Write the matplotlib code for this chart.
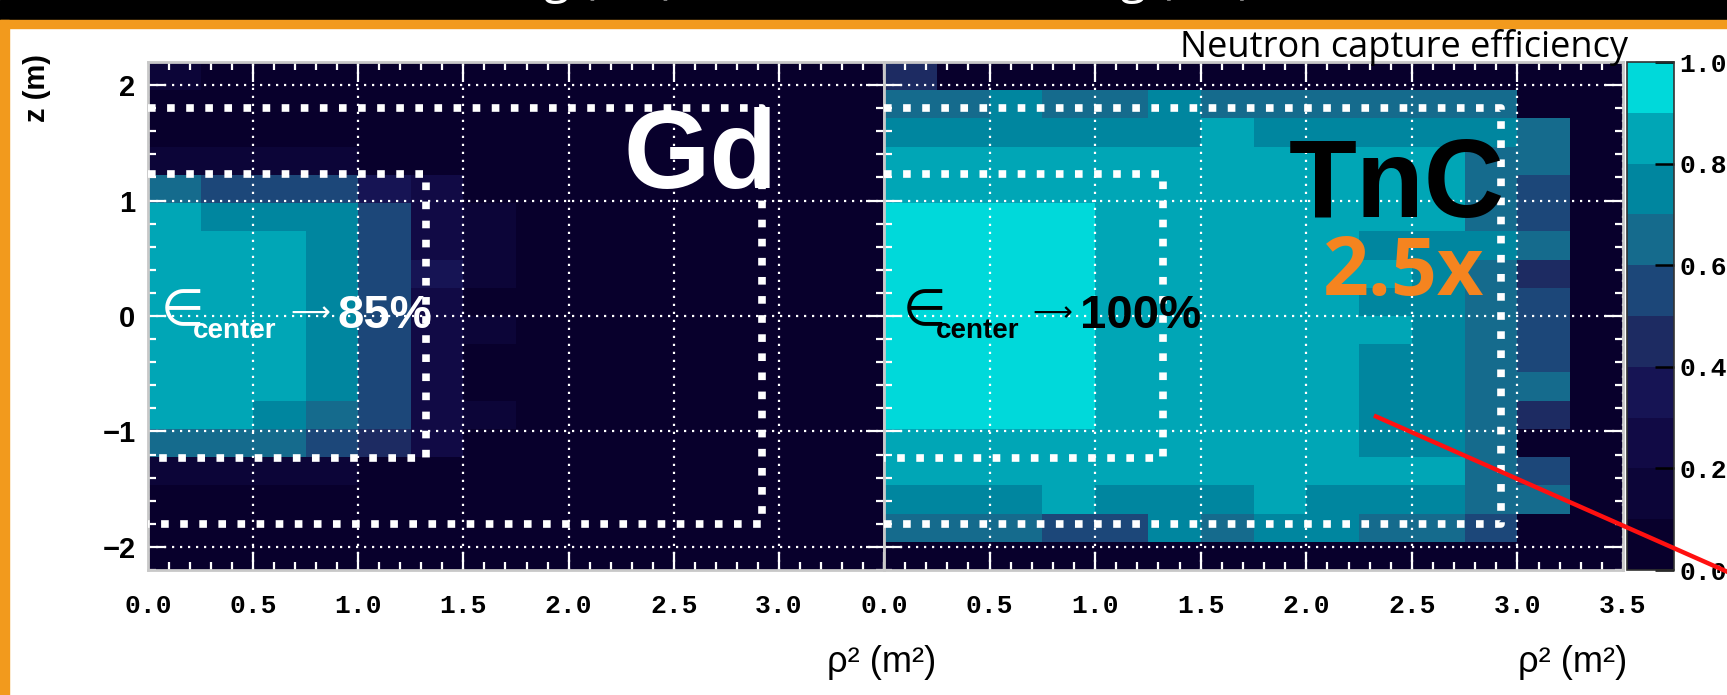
import numpy as np
import matplotlib
matplotlib.use("Agg")
import matplotlib.pyplot as plt
from matplotlib.colors import ListedColormap, BoundaryNorm
from matplotlib.ticker import MultipleLocator
from matplotlib.lines import Line2D
from matplotlib.patches import Rectangle
from matplotlib import font_manager as fm

# ---------------- data ----------------
rho2_edges = np.arange(0, 3.5001, 0.25)          # rho^2 bins (m^2)
z_edges = np.linspace(-2.2, 2.2, 19)             # z bins (m)

# neutron capture efficiency, rows from top (z=+2.2) to bottom (z=-2.2)
gd_eff = [
    [0.15, 0.05, 0.05, 0.05, 0.05, 0.05, 0.05, 0.05, 0.05, 0.05, 0.05, 0.05, 0.05, 0.05],
    [0.05, 0.05, 0.05, 0.05, 0.05, 0.05, 0.05, 0.05, 0.05, 0.05, 0.05, 0.05, 0.05, 0.05],
    [0.05, 0.05, 0.05, 0.05, 0.05, 0.05, 0.05, 0.05, 0.05, 0.05, 0.05, 0.05, 0.05, 0.05],
    [0.15, 0.15, 0.15, 0.15, 0.05, 0.05, 0.05, 0.05, 0.05, 0.05, 0.05, 0.05, 0.05, 0.05],
    [0.65, 0.55, 0.55, 0.55, 0.35, 0.25, 0.05, 0.05, 0.05, 0.05, 0.05, 0.05, 0.05, 0.05],
    [0.85, 0.75, 0.75, 0.75, 0.55, 0.25, 0.15, 0.05, 0.05, 0.05, 0.05, 0.05, 0.05, 0.05],
    [0.85, 0.85, 0.85, 0.75, 0.55, 0.25, 0.15, 0.05, 0.05, 0.05, 0.05, 0.05, 0.05, 0.05],
    [0.85, 0.85, 0.85, 0.75, 0.55, 0.35, 0.15, 0.05, 0.05, 0.05, 0.05, 0.05, 0.05, 0.05],
    [0.85, 0.85, 0.85, 0.75, 0.55, 0.25, 0.05, 0.05, 0.05, 0.05, 0.05, 0.05, 0.05, 0.05],
    [0.85, 0.85, 0.85, 0.75, 0.55, 0.25, 0.15, 0.05, 0.05, 0.05, 0.05, 0.05, 0.05, 0.05],
    [0.85, 0.85, 0.85, 0.75, 0.55, 0.25, 0.05, 0.05, 0.05, 0.05, 0.05, 0.05, 0.05, 0.05],
    [0.85, 0.85, 0.85, 0.75, 0.55, 0.25, 0.05, 0.05, 0.05, 0.05, 0.05, 0.05, 0.05, 0.05],
    [0.85, 0.85, 0.75, 0.65, 0.55, 0.25, 0.15, 0.05, 0.05, 0.05, 0.05, 0.05, 0.05, 0.05],
    [0.65, 0.65, 0.65, 0.55, 0.45, 0.25, 0.05, 0.05, 0.05, 0.05, 0.05, 0.05, 0.05, 0.05],
    [0.15, 0.15, 0.15, 0.15, 0.05, 0.05, 0.05, 0.05, 0.05, 0.05, 0.05, 0.05, 0.05, 0.05],
    [0.05, 0.05, 0.05, 0.05, 0.05, 0.05, 0.05, 0.05, 0.05, 0.05, 0.05, 0.05, 0.05, 0.05],
    [0.05, 0.05, 0.05, 0.05, 0.05, 0.05, 0.05, 0.05, 0.05, 0.05, 0.05, 0.05, 0.05, 0.05],
    [0.05, 0.05, 0.05, 0.05, 0.05, 0.05, 0.05, 0.05, 0.05, 0.05, 0.05, 0.05, 0.05, 0.05],
]

tnc_eff = [
    [0.45, 0.05, 0.05, 0.05, 0.05, 0.05, 0.05, 0.05, 0.05, 0.05, 0.05, 0.05, 0.05, 0.05],
    [0.65, 0.65, 0.75, 0.65, 0.65, 0.75, 0.65, 0.65, 0.65, 0.65, 0.65, 0.65, 0.05, 0.05],
    [0.75, 0.75, 0.75, 0.75, 0.75, 0.75, 0.85, 0.75, 0.75, 0.75, 0.75, 0.75, 0.65, 0.05],
    [0.85, 0.85, 0.85, 0.85, 0.85, 0.85, 0.85, 0.85, 0.85, 0.85, 0.85, 0.65, 0.65, 0.05],
    [0.85, 0.85, 0.85, 0.85, 0.85, 0.85, 0.85, 0.85, 0.85, 0.85, 0.85, 0.65, 0.55, 0.05],
    [0.95, 0.95, 0.95, 0.95, 0.85, 0.85, 0.85, 0.85, 0.85, 0.85, 0.85, 0.65, 0.55, 0.05],
    [0.95, 0.95, 0.95, 0.95, 0.85, 0.85, 0.85, 0.85, 0.85, 0.75, 0.75, 0.75, 0.65, 0.05],
    [0.95, 0.95, 0.95, 0.95, 0.85, 0.85, 0.85, 0.85, 0.85, 0.85, 0.75, 0.65, 0.45, 0.05],
    [0.95, 0.95, 0.95, 0.95, 0.85, 0.85, 0.85, 0.85, 0.85, 0.75, 0.75, 0.65, 0.55, 0.05],
    [0.95, 0.95, 0.95, 0.95, 0.85, 0.85, 0.85, 0.85, 0.85, 0.85, 0.75, 0.65, 0.55, 0.05],
    [0.95, 0.95, 0.95, 0.95, 0.85, 0.85, 0.85, 0.85, 0.85, 0.75, 0.75, 0.65, 0.55, 0.05],
    [0.95, 0.95, 0.95, 0.95, 0.85, 0.85, 0.85, 0.85, 0.85, 0.75, 0.75, 0.65, 0.65, 0.05],
    [0.95, 0.95, 0.95, 0.95, 0.85, 0.85, 0.85, 0.85, 0.85, 0.75, 0.75, 0.65, 0.45, 0.05],
    [0.85, 0.85, 0.85, 0.85, 0.85, 0.85, 0.85, 0.85, 0.85, 0.75, 0.75, 0.65, 0.05, 0.05],
    [0.85, 0.85, 0.85, 0.85, 0.85, 0.85, 0.85, 0.85, 0.85, 0.85, 0.85, 0.65, 0.55, 0.05],
    [0.75, 0.75, 0.75, 0.85, 0.75, 0.75, 0.75, 0.85, 0.75, 0.75, 0.75, 0.65, 0.65, 0.05],
    [0.65, 0.65, 0.65, 0.55, 0.55, 0.75, 0.65, 0.75, 0.75, 0.65, 0.65, 0.55, 0.05, 0.05],
    [0.05, 0.05, 0.05, 0.05, 0.05, 0.05, 0.05, 0.05, 0.05, 0.05, 0.05, 0.05, 0.05, 0.05],
]

x_tick_values = [0.0, 0.5, 1.0, 1.5, 2.0, 2.5, 3.0, 3.5]
z_tick_values = [-2, -1, 0, 1, 2]
z_tick_labels = ["\u22122", "\u22121", "0", "1", "2"]
cbar_ticks = [0.0, 0.2, 0.4, 0.6, 0.8, 1.0]

# fiducial volume outlines (rho^2 extent, half height in z)
outer_box = (2.92, 1.80)
inner_box = (1.32, 1.23)

# ---------------- fonts ----------------
names = {f.name for f in fm.fontManager.ttflist}
def pick(*cands):
    for c in cands:
        if c in names:
            return c
    return "DejaVu Sans"
SANS = pick("Liberation Sans", "Arial", "DejaVu Sans")
NARROW = pick("Liberation Sans Narrow", SANS)
MONO = pick("Liberation Mono", "DejaVu Sans Mono")
CAL = pick("Open Sans", "Lato", SANS)
big_size = 92 if NARROW != SANS else 80

# ---------------- figure ----------------
W, H = 1727, 695
fig = plt.figure(figsize=(W / 100, H / 100), dpi=100, facecolor="white")

colors = ["#08002c", "#0c0538", "#110a45", "#161454", "#1d2b62",
          "#1c4779", "#156b8d", "#00869f", "#00a6b6", "#00d9da"]
cmap = ListedColormap(colors)
norm = BoundaryNorm(np.linspace(0, 1, 11), cmap.N)

ax_bottom = 1 - 570 / H
ax_h = (570 - 62) / H
ax1 = fig.add_axes([148 / W, ax_bottom, (884 - 148) / W, ax_h])
ax2 = fig.add_axes([884 / W, ax_bottom, (1623 - 884) / W, ax_h])
cax = fig.add_axes([1627 / W, ax_bottom, 47 / W, ax_h])

mesh = None
for ax, data in ((ax1, gd_eff), (ax2, tnc_eff)):
    arr = np.array(data)[::-1]
    mesh = ax.pcolormesh(rho2_edges, z_edges, arr, cmap=cmap, norm=norm, zorder=0.5)
    ax.set_xlim(0, 3.5)
    ax.set_ylim(-2.2, 2.2)
    ax.xaxis.set_minor_locator(MultipleLocator(0.1))
    ax.yaxis.set_minor_locator(MultipleLocator(0.2))
    ax.tick_params(which="both", direction="in", top=True, right=True,
                   color="white", width=1.6, labelcolor="black")
    ax.tick_params(which="major", length=13)
    ax.tick_params(which="minor", length=6)
    ax.tick_params(axis="x", pad=17)
    ax.tick_params(axis="y", pad=9)
    ax.grid(True, which="major", color="white", linestyle=(0, (1, 2.6)), linewidth=1.6)
    for s in ax.spines.values():
        s.set_color("#c8c8c8")
        s.set_linewidth(2)
    for (xr, zh) in (outer_box, inner_box):
        ax.plot([0, xr, xr, 0], [zh, zh, -zh, -zh], color="white", lw=5.5,
                linestyle=(0, (1, 1.5)), dash_capstyle="butt", zorder=3)

lbl_kw = dict(fontfamily=MONO, fontweight="bold", fontsize=19)
ax1.set_xticks(x_tick_values[:-1], ["%.1f" % v for v in x_tick_values[:-1]], **lbl_kw)
ax2.set_xticks(x_tick_values, ["%.1f" % v for v in x_tick_values], **lbl_kw)
ax1.set_yticks(z_tick_values, z_tick_labels, fontfamily=SANS, fontweight="bold", fontsize=21)
ax2.set_yticks(z_tick_values)
ax2.tick_params(labelleft=False)

# colorbar
cb = fig.colorbar(mesh, cax=cax)
cb.set_ticks(cbar_ticks, labels=["%.1f" % v for v in cbar_ticks], **lbl_kw)
cax.tick_params(direction="in", length=14, width=1.8, color="black", pad=4)
cax.minorticks_off()
cb.outline.set_linewidth(1.2)
cb.outline.set_edgecolor("#333333")

# annotations inside panels
ax1.text(2.63, 1.36, "Gd", color="white", fontsize=big_size, fontweight="bold",
         fontfamily=NARROW, ha="center", va="center", zorder=5)
ax2.text(2.43, 1.11, "TnC", color="black", fontsize=big_size, fontweight="bold",
         fontfamily=NARROW, ha="center", va="center", zorder=5)
ax2.text(2.46, 0.36, "2.5x", color="#f5841f", fontsize=58, fontweight="bold",
         fontfamily=CAL, ha="center", va="center", zorder=5)


def center_label(ax, x0, value, color):
    # "∈_center → value" built from pieces so that the ∈ is large like the original
    ax.text(x0, -0.08, "\u2208", color=color, fontsize=36, fontfamily="DejaVu Sans",
            ha="left", va="baseline", zorder=5)
    ax.text(x0 + 0.155, -0.19, "center", color=color, fontsize=20, fontweight="bold",
            fontfamily=SANS, ha="left", va="baseline", zorder=5)
    ax.text(x0 + 0.615, 0.03, "\u27f6", color=color, fontsize=20, fontfamily="DejaVu Sans",
            ha="left", va="center", zorder=5)
    ax.text(x0 + 0.84, -0.10, value, color=color, fontsize=34, fontweight="bold",
            fontfamily=SANS, ha="left", va="baseline", zorder=5)


center_label(ax1, 0.06, "85%", "white")
center_label(ax2, 0.09, "100%", "black")

# axis titles
fig.text(936 / W, 1 - 672 / H, "\u03c1\u00b2 (m\u00b2)", ha="right", va="baseline",
         fontsize=26, fontfamily=SANS)
fig.text(1627 / W, 1 - 672 / H, "\u03c1\u00b2 (m\u00b2)", ha="right", va="baseline",
         fontsize=26, fontfamily=SANS)
fig.text(37 / W, 1 - 88 / H, "z (m)", rotation=90, ha="center", va="center",
         fontsize=21, fontweight="bold", fontfamily=SANS)
fig.text(1404 / W, 1 - 57 / H, "Neutron capture efficiency", ha="center",
         va="baseline", fontsize=26, fontfamily=CAL, zorder=6)

# slide decoration: black title band, orange rule and left border
fig.add_artist(Rectangle((0, 1 - 20 / H), 1, 20 / H, transform=fig.transFigure,
                         color="black", zorder=1))
fig.add_artist(Rectangle((0, 1 - 28 / H), 1, 8 / H, transform=fig.transFigure,
                         color="#f29a1d", zorder=1))
fig.add_artist(Rectangle((0, 0), 9 / W, 1 - 20 / H, transform=fig.transFigure,
                         color="#f29a1d", zorder=1))
# slide title, mostly above the visible area as in the original screenshot
fig.text(676 / W, 1 + 7 / H, "Gd-loading (1%)", ha="right", va="baseline",
         color="white", fontsize=34, fontfamily=CAL, zorder=7)
fig.text(1252 / W, 1 + 7 / H, "TnC-loading (1%)", ha="right", va="baseline",
         color="white", fontsize=34, fontfamily=CAL, zorder=7)

# red pointer line, from inside the TnC map out past the right edge of the slide
fig.add_artist(Line2D([2.33, 4.0], [-0.87, -2.22], transform=ax2.transData,
                      color="#ff1010", lw=3.2, zorder=20, clip_on=False))

fig.savefig("out.png", dpi=100, facecolor="white")
